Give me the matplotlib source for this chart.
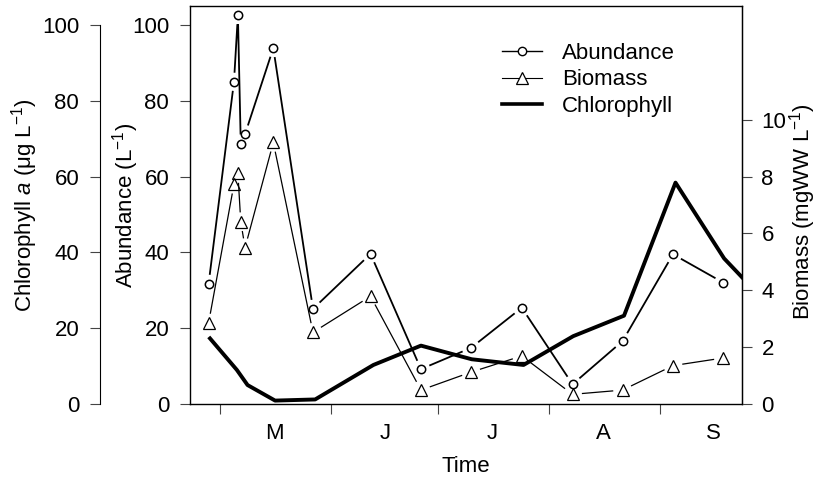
import numpy as np
import matplotlib
matplotlib.use('Agg')
import matplotlib.pyplot as plt
from matplotlib.lines import Line2D

plt.rcParams['font.family'] = ['Liberation Sans', 'DejaVu Sans']
plt.rcParams['mathtext.fontset'] = 'custom'
plt.rcParams['mathtext.rm'] = 'Liberation Sans'
plt.rcParams['mathtext.it'] = 'Liberation Sans:italic'
plt.rcParams['font.size'] = 16

# sampling dates (day of year) and values
days = [117.7, 124.8, 125.9, 126.7, 127.9, 135.8, 146.9, 163.0, 177.1,
        191.1, 205.3, 219.5, 233.5, 247.6, 261.7]
abundance = [31.7, 85.0, 102.6, 68.7, 71.2, 93.9, 25.1, 39.6, 9.2,
             14.8, 25.4, 5.2, 16.6, 39.5, 32.0]
biomass = [2.85, 7.73, 8.11, 6.41, 5.50, 9.20, 2.52, 3.79, 0.49,
           1.12, 1.69, 0.34, 0.49, 1.35, 1.62]

chl_days = [118.1, 125.6, 128.6, 136.3, 147.5, 163.8, 177.1, 191.3,
            205.8, 219.7, 233.9, 248.3, 261.9, 275.9]
chlorophyll = [17.3, 9.0, 5.0, 0.9, 1.2, 10.3, 15.4, 11.8,
               10.3, 17.9, 23.3, 58.4, 38.4, 24.5]

month_starts = [121, 152, 182, 213, 244]
month_mid = [136, 167, 197, 228, 259]
month_labels = ['M', 'J', 'J', 'A', 'S']

W, H = 817, 479
fig = plt.figure(figsize=(W / 100, H / 100), dpi=100)
ax = fig.add_axes([190 / W, (H - 404) / H, 552 / W, 398 / H])
ax.set_xlim(112.5, 266.9)
ax.set_ylim(0, 105)

ax_chl = ax.twinx()
ax_chl.set_ylim(0, 105)
ax_bio = ax.twinx()
ax_bio.set_ylim(0, 14)


def gapped(a, x, y, gap=10, **kw):
    # R type="b": segments stop short of the points
    pts = a.transData.transform(np.column_stack([x, y]))
    inv = a.transData.inverted()
    xs, ys = [], []
    for p, q in zip(pts[:-1], pts[1:]):
        d = q - p
        L = np.hypot(*d)
        if L <= 2 * gap:
            continue
        u = d / L
        s = inv.transform([p + u * gap, q - u * gap])
        xs += [s[0, 0], s[1, 0], np.nan]
        ys += [s[0, 1], s[1, 1], np.nan]
    a.plot(xs, ys, color='black', **kw)


# abundance
gapped(ax, days, abundance, lw=1.3)
ax.plot(days, abundance, 'o', ms=6, mfc='none', mec='black', mew=1.1)

# biomass
gapped(ax_bio, days, biomass, lw=0.9)
ax_bio.plot(days, biomass, '^', ms=8, mfc='none', mec='black', mew=0.9)

# chlorophyll
ax_chl.plot(chl_days, chlorophyll, color='black', lw=2.8)

# axes styling
for a in (ax, ax_chl, ax_bio):
    a.tick_params(length=7, width=0.8, color='#444444')
for s in ax.spines.values():
    s.set_linewidth(1.0)

ax.set_xticks(month_starts)
ax.set_xticklabels([])
ax.set_xticks(month_mid, minor=True)
ax.set_xticklabels(month_labels, minor=True)
ax.tick_params(axis='x', which='minor', length=0, pad=14)
ax.set_yticks(range(0, 101, 20))
ax.tick_params(axis='y', pad=8)

ax_chl.yaxis.set_ticks_position('left')
ax_chl.spines['left'].set_position(('outward', 64.8))
ax_chl.spines['left'].set_bounds(0, 100)
ax_chl.spines['right'].set_visible(False)
ax_chl.spines['top'].set_visible(False)
ax_chl.spines['bottom'].set_visible(False)
ax_chl.set_yticks(range(0, 101, 20))
ax_chl.tick_params(axis='y', pad=8)

ax_bio.set_yticks(range(0, 11, 2))
ax_bio.tick_params(axis='y', pad=7)
for k in ('left', 'top', 'bottom'):
    ax_bio.spines[k].set_visible(False)

fig.text(25 / W, 1 - 205 / H, r'Chlorophyll $a$ (μg L$^{-1}$)', rotation=90,
         ha='center', va='center')
fig.text(126 / W, 1 - 205 / H, r'Abundance (L$^{-1}$)', rotation=90,
         ha='center', va='center')
fig.text(803 / W, 1 - 212 / H, r'Biomass (mgWW L$^{-1}$)', rotation=90,
         ha='center', va='center')
fig.text(466 / W, 1 - 466 / H, 'Time', ha='center', va='center')

handles = [
    Line2D([], [], color='black', lw=1.0, marker='o', ms=6, mfc='white', mew=1.0),
    Line2D([], [], color='black', lw=0.8, marker='^', ms=8, mfc='white', mew=0.9),
    Line2D([], [], color='black', lw=2.6),
]
ax_bio.legend(handles, ['Abundance', 'Biomass', 'Chlorophyll'],
              loc='upper left', bbox_to_anchor=(502 / W, 1 - 43 / H),
              bbox_transform=fig.transFigure, frameon=False,
              borderpad=0, borderaxespad=0, handlelength=1.8,
              handletextpad=0.9, labelspacing=0.24, fontsize=16)

fig.savefig('out.png', dpi=100)
